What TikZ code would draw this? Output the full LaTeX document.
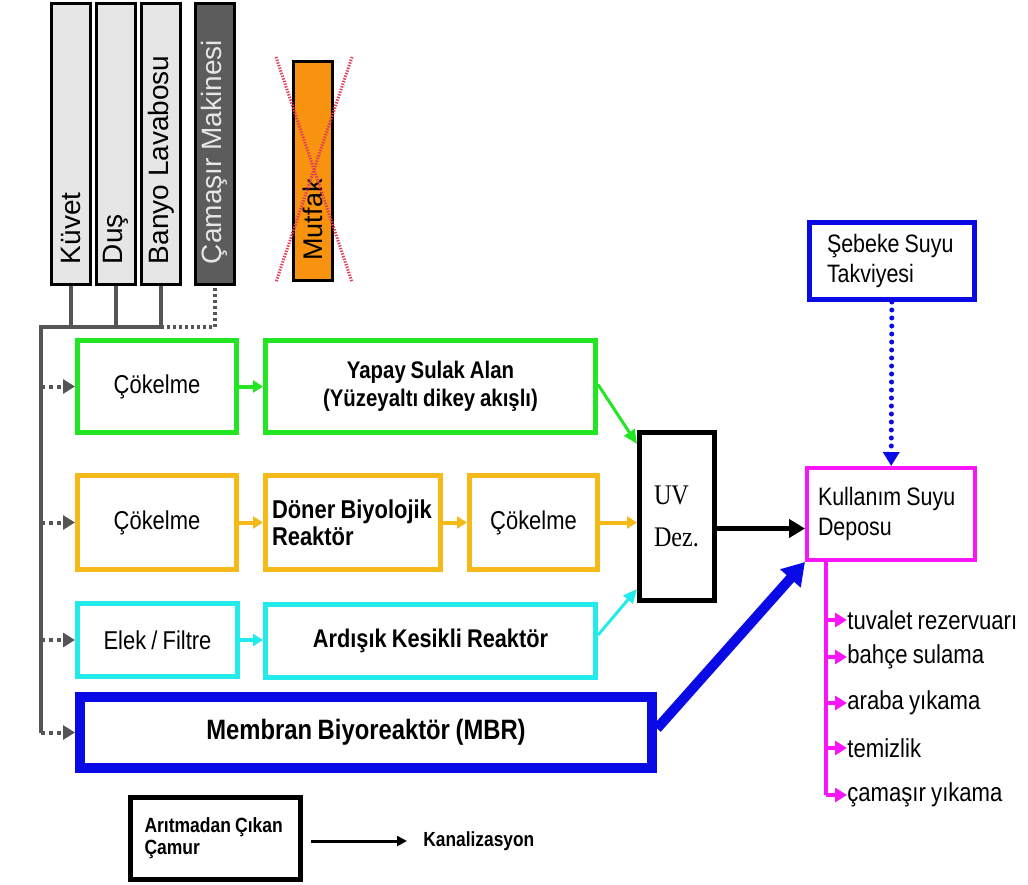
\documentclass[tikz,border=0pt]{standalone}
\usepackage{fontspec}
\setmainfont{Liberation Sans}[FakeStretch=0.85, WordSpace=0.85]
\newfontfamily\upfont{Liberation Sans}
\newfontfamily\uvfont{Liberation Serif}[FakeStretch=0.85, WordSpace=0.85]
\usetikzlibrary{arrows.meta}
\definecolor{grn}{RGB}{35,230,35}
\definecolor{gld}{RGB}{245,185,25}
\definecolor{cyn}{RGB}{35,235,235}
\definecolor{blu}{RGB}{10,10,230}
\definecolor{mag}{RGB}{250,20,250}
\definecolor{pipe}{RGB}{85,85,85}
\definecolor{srcfill}{RGB}{230,230,230}
\definecolor{wmfill}{RGB}{92,92,92}
\definecolor{kitchen}{RGB}{247,147,15}
\definecolor{xred}{RGB}{225,60,90}
\newcommand\tightspace{\spaceskip=0pt\relax\xspaceskip=0pt\relax}

\begin{document}
\begin{tikzpicture}[x=0.5pt, y=-0.5pt,
  lefttext/.style={align=left, execute at begin node=\tightspace},
  src/.style={draw=black, line width=1.5pt, fill=srcfill, rotate=90, inner sep=0pt,
    minimum height=19.5pt, lefttext, font=\upfont\fontsize{14}{16}\selectfont},
  unit/.style={draw=#1, line width=2.5pt, fill=white, inner sep=0pt, align=center,
    font=\fontsize{12.9}{15}\selectfont},
  unitbf/.style={unit=#1, font=\bfseries\fontsize{12}{14}\selectfont},
  pipeline/.style={draw=pipe, line width=2pt},
  feed/.style={draw=pipe, line width=2pt, dash pattern=on 2pt off 2pt,
    -{Triangle[length=6pt, width=7pt]}},
  link/.style={draw=#1, line width=2pt, -{Triangle[length=5pt, width=6pt]}},
  tocell/.style={draw=#1, line width=1.5pt, -{Triangle[length=7pt, width=6pt]}},
  enduse/.style={anchor=west, inner sep=0pt, font=\fontsize{13}{15}\selectfont},
  strike/.style={draw=xred, line width=1.5pt, dash pattern=on 0.7pt off 0.7pt}]
  \useasboundingbox (0,0) rectangle (1028,884);

  \node[src, minimum width=140.5pt, text width=120pt] (kuvet) at (71,144) {Küvet};
  \node[src, minimum width=140.5pt, text width=120pt] (dus) at (116,144) {Duş};
  \node[src, minimum width=140.5pt, text width=120pt] (banyo) at (161,144) {Banyo Lavabosu};
  \node[src, minimum width=140.5pt, text width=120pt, fill=wmfill, text=srcfill] (camasir) at (214.5,144) {Çamaşır Makinesi};
  \node[src, minimum width=109.5pt, text width=89.5pt, fill=kitchen,
    font=\upfont\fontsize{13.5}{16}\selectfont] (mutfak) at (313,171) {Mutfak};
  \draw[strike] (276,57) -- (352,282);
  \draw[strike] (352,57) -- (276,282);

  \node[unit=grn, minimum width=79.5pt, minimum height=46pt] (cok1) at (157,386.5) {Çökelme};
  \node[unitbf=grn, minimum width=165pt, minimum height=46pt] (yapay) at (430.5,386.5) {Yapay Sulak Alan\\(Yüzeyaltı dikey akışlı)};
  \node[unit=gld, minimum width=79.5pt, minimum height=47pt] (cok2) at (157,522.5) {Çökelme};
  \node[unitbf=gld, minimum width=87.5pt, minimum height=47pt, text width=81pt, lefttext,
    font=\bfseries\fontsize{12.9}{13.5}\selectfont] (doner) at (353,522.5) {\mbox{Döner Biyolojik}\\Reaktör};
  \node[unit=gld, minimum width=64pt, minimum height=47pt] (cok3) at (533.5,522.5) {Çökelme};
  \node[unit=cyn, minimum width=80pt, minimum height=36.5pt] (elek) at (157.5,640) {Elek / Filtre};
  \node[unitbf=cyn, minimum width=165pt, minimum height=36.5pt,
    font=\bfseries\fontsize{12.8}{15}\selectfont] (ardisik) at (430.5,641) {Ardışık Kesikli Reaktör};
  \node[unitbf=blu, line width=5pt, minimum width=286pt, minimum height=35.5pt,
    font=\bfseries\fontsize{14}{16}\selectfont] (mbr) at (366,732.5) {Membran Biyoreaktör (MBR)};

  \node[draw, line width=2.5pt, inner sep=0pt, minimum width=37.5pt, minimum height=84pt,
    text width=23pt, lefttext, font=\uvfont\fontsize{14.2}{21}\selectfont] (uv) at (677,516.5) {UV\\Dez.};
  \node[draw=mag, line width=2pt, inner sep=0pt, minimum width=84pt, minimum height=46pt,
    text width=73pt, lefttext, font=\fontsize{12.6}{15}\selectfont] (kul) at (891,514) {Kullanım Suyu\\Deposu};
  \node[draw=blu, line width=2.5pt, inner sep=0pt, minimum width=82.5pt, minimum height=38.5pt,
    text width=65pt, lefttext, font=\fontsize{12.6}{15}\selectfont] (seb) at (892,261) {Şebeke Suyu\\Takviyesi};

  \node[enduse] (tuv) at (847,620) {tuvalet rezervuarı};
  \node[enduse] (bah) at (847,657) {bahçe sulama};
  \node[enduse] (ara) at (847,703) {araba yıkama};
  \node[enduse] (tem) at (847,748) {temizlik};
  \node[enduse] (cam) at (847,795) {çamaşır yıkama};

  \node[draw, line width=2.5pt, inner sep=0pt, minimum width=85pt, minimum height=41pt,
    text width=71pt, lefttext, font=\bfseries\fontsize{10.3}{11}\selectfont] (camur) at (215.5,838.5) {Arıtmadan Çıkan\\Çamur};
  \node[anchor=west, inner sep=0pt, font=\bfseries\fontsize{10.2}{12}\selectfont] (kanal) at (423,841) {Kanalizasyon};

  \coordinate (trunk) at (41,327);
  \coordinate (tap) at ([xshift=10.5pt]kul.south west);

  \foreach \n in {kuvet,dus,banyo}
    \draw[pipeline] (\n.west) -- (\n.west |- trunk);
  \draw[pipeline] (trunk |- mbr.west) -- (trunk) -- (banyo.west |- trunk);
  \draw[pipeline, dash pattern=on 1.5pt off 1.5pt] (banyo.west |- trunk) -- (camasir.west |- trunk) -- (camasir.west);
  \foreach \n in {cok1,cok2,elek,mbr}
    \draw[feed] (trunk |- \n.west) -- (\n.west);

  \draw[link=grn] (cok1) -- (yapay);
  \draw[link=gld] (cok2) -- (doner);
  \draw[link=gld] (doner) -- (cok3);
  \draw[link=cyn] (elek.east) -- (elek.east -| ardisik.west);
  \draw[tocell=grn] ([yshift=1pt]yapay.east) -- ([yshift=-7pt]uv.north west);
  \draw[link=gld] (cok3.east) -- (uv.west |- cok3.east);
  \draw[tocell=cyn] ([yshift=3pt]ardisik.east) -- ([yshift=7pt]uv.south west);
  \draw[line width=2.5pt, -{Triangle[length=8pt, width=9pt]}] ([yshift=-6pt]uv.east) -- ([yshift=-6pt]uv.east -| kul.west);
  \draw[blu, line width=5pt, -{Triangle[length=11pt, width=13pt]}] ([yshift=2pt]mbr.east) -- (kul.south west);
  \draw[blu, line width=2.5pt, line cap=round, dash pattern=on 0pt off 4pt,
    -{Triangle[length=7pt, width=8pt]}] (seb) -- (kul);

  \draw[mag, line width=2pt] (tap) -- (tap |- cam.west);
  \foreach \n in {tuv,bah,ara,tem,cam}
    \draw[link=mag, -{Triangle[length=6pt, width=7pt]}] (tap |- \n.west) -- (\n.west);

  \draw[line width=1.5pt, -{Triangle[length=5pt, width=5pt]}, shorten <=4pt, shorten >=8pt] (camur.east |- kanal.west) -- (kanal.west);
\end{tikzpicture}
\end{document}
